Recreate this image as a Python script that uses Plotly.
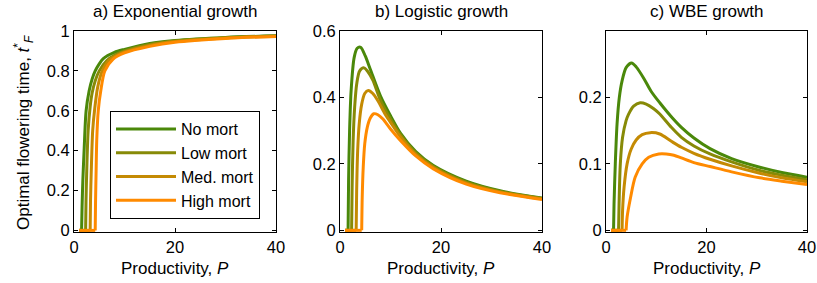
import plotly.graph_objects as go

series_names = ["No mort", "Low mort", "Med. mort", "High mort"]
colors = ["#4A880A", "#878A07", "#C48A03", "#FF8A00"]

# Panel a) Exponential growth
exp_P = [
    [1, 1.5, 1.6, 1.75, 2.0, 2.4, 3.0, 3.6, 4.2, 5.0, 5.8, 8, 10, 15, 20, 30, 40],
    [1, 2.3, 2.38, 2.5, 2.8, 3.2, 3.6, 4.2, 5.0, 6.5, 8, 10, 15, 20, 30, 40],
    [1, 3.2, 3.27, 3.4, 3.7, 4.1, 4.7, 5.6, 7.1, 8.5, 10, 15, 20, 30, 40],
    [1, 4.2, 4.27, 4.38, 4.5, 4.8, 5.3, 6.1, 7.7, 10, 15, 20, 30, 40],
]
exp_t = [
    [0, 0, 0.12, 0.25, 0.40, 0.60, 0.70, 0.76, 0.80, 0.835, 0.862, 0.893, 0.908, 0.938, 0.953, 0.968, 0.976],
    [0, 0, 0.15, 0.28, 0.50, 0.62, 0.69, 0.75, 0.80, 0.852, 0.878, 0.90, 0.933, 0.950, 0.966, 0.975],
    [0, 0, 0.15, 0.28, 0.50, 0.61, 0.72, 0.80, 0.858, 0.878, 0.895, 0.928, 0.947, 0.965, 0.974],
    [0, 0, 0.15, 0.30, 0.45, 0.60, 0.70, 0.80, 0.858, 0.89, 0.923, 0.944, 0.963, 0.973],
]

# Panel b) Logistic growth
log_P = [
    [1, 1.6, 1.7, 1.9, 2.2, 2.8, 3.4, 4.1, 5, 6, 8, 10, 12, 15, 18.5, 25, 31.7, 40],
    [1, 2.3, 2.4, 2.6, 2.9, 3.3, 3.9, 4.75, 5.5, 6.5, 8, 10, 12, 15, 18.5, 25, 31.7, 40],
    [1, 3.2, 3.3, 3.5, 3.8, 4.3, 4.9, 5.6, 6.5, 7.5, 9, 10, 12, 15, 18.5, 25, 31.7, 40],
    [1, 4.3, 4.4, 4.6, 4.9, 5.4, 6, 6.7, 7.5, 8.5, 10, 12, 15, 18.5, 25, 31.7, 40],
]
log_t = [
    [0, 0, 0.15, 0.30, 0.42, 0.52, 0.548, 0.551, 0.525, 0.485, 0.405, 0.345, 0.292, 0.237, 0.195, 0.148, 0.119, 0.097],
    [0, 0, 0.13, 0.27, 0.37, 0.44, 0.48, 0.489, 0.478, 0.452, 0.392, 0.335, 0.287, 0.233, 0.192, 0.145, 0.117, 0.096],
    [0, 0, 0.12, 0.24, 0.32, 0.38, 0.412, 0.421, 0.412, 0.39, 0.348, 0.325, 0.281, 0.229, 0.189, 0.142, 0.115, 0.095],
    [0, 0, 0.10, 0.19, 0.26, 0.31, 0.338, 0.351, 0.348, 0.335, 0.305, 0.27, 0.224, 0.185, 0.139, 0.113, 0.093],
]

# Panel c) WBE growth
wbe_P = [
    [1, 1.5, 1.6, 1.85, 2.2, 2.65, 3.2, 4, 5.1, 6, 7.5, 9, 10.7, 13, 15, 17.5, 20.7, 25, 30.6, 35, 40],
    [1, 2.5, 2.6, 2.85, 3.3, 4, 4.5, 5.5, 6.8, 8, 9.5, 10.7, 13, 15, 17.5, 20.7, 25, 30.6, 35, 40],
    [1, 3.2, 3.3, 3.6, 4.2, 5, 6, 7.2, 8.8, 10.7, 13, 15, 17.5, 20.7, 25, 30.6, 35, 40],
    [1, 4.0, 4.2, 4.85, 5.8, 7.2, 8.5, 10.5, 12, 13.5, 15, 17.5, 20.7, 25, 30.6, 35, 40],
]
wbe_t = [
    [0, 0, 0.04, 0.10, 0.16, 0.20, 0.225, 0.245, 0.252, 0.246, 0.229, 0.209, 0.192, 0.171, 0.155, 0.139, 0.123, 0.108, 0.095, 0.087, 0.080],
    [0, 0, 0.04, 0.10, 0.14, 0.165, 0.175, 0.187, 0.192, 0.19, 0.183, 0.175, 0.155, 0.140, 0.127, 0.115, 0.103, 0.090, 0.083, 0.076],
    [0, 0, 0.03, 0.065, 0.10, 0.122, 0.136, 0.144, 0.147, 0.145, 0.134, 0.125, 0.116, 0.107, 0.097, 0.086, 0.079, 0.073],
    [0, 0, 0.02, 0.048, 0.08, 0.10, 0.11, 0.115, 0.115, 0.113, 0.109, 0.102, 0.096, 0.088, 0.079, 0.074, 0.069],
]

panel_titles = ["a) Exponential growth", "b) Logistic growth", "c) WBE growth"]
x_ticks = [0, 20, 40]
y_ticks = [[0, 0.2, 0.4, 0.6, 0.8, 1], [0, 0.2, 0.4, 0.6], [0, 0.1, 0.2]]
y_tick_text = [["0", "0.2", "0.4", "0.6", "0.8", "1"], ["0", "0.2", "0.4", "0.6"], ["0", "0.1", "0.2"]]
y_ranges = [[-0.008, 1], [-0.005, 0.6], [-0.0025, 0.3]]

W, H = 817, 283
FONT = "Liberation Sans, Arial, Helvetica, sans-serif"
TXT = 17
TICK = 16.5
x_domains = [[74 / W, 276 / W], [340 / W, 542 / W], [606 / W, 807 / W]]
y_domain = [1 - 232 / H, 1 - 31 / H]

fig = go.Figure()
data_sets = [(exp_P, exp_t), (log_P, log_t), (wbe_P, wbe_t)]
for k, (Ps, ts) in enumerate(data_sets):
    xa = "x" if k == 0 else f"x{k+1}"
    ya = "y" if k == 0 else f"y{k+1}"
    for i in range(4):
        P, t = Ps[i], ts[i]
        # index of the last zero before the curve rises
        j = max(n for n in range(len(t)) if t[n] == 0)
        fig.add_trace(go.Scatter(
            x=P[:j + 1], y=t[:j + 1], mode="lines", name=series_names[i],
            line=dict(color=colors[i], width=3), legendgroup=series_names[i],
            showlegend=False, xaxis=xa, yaxis=ya, hoverinfo="skip",
        ))
        fig.add_trace(go.Scatter(
            x=P[j:], y=t[j:], mode="lines", name=series_names[i],
            line=dict(color=colors[i], width=3, shape="spline", smoothing=0.8),
            legendgroup=series_names[i],
            showlegend=(k == 0), xaxis=xa, yaxis=ya, hoverinfo="skip",
        ))

axis_common = dict(showline=True, linecolor="black", linewidth=1, mirror="ticks",
                   ticks="inside", ticklen=4, tickcolor="black", showgrid=False,
                   zeroline=False, automargin=False,
                   tickfont=dict(family=FONT, size=TICK, color="black"))
layout = dict(width=W, height=H, margin=dict(l=0, r=0, t=0, b=0, autoexpand=False),
              paper_bgcolor="white", plot_bgcolor="white",
              font=dict(family=FONT, size=TXT, color="black"))
annotations = []
for k in range(3):
    xk = "xaxis" if k == 0 else f"xaxis{k+1}"
    yk = "yaxis" if k == 0 else f"yaxis{k+1}"
    layout[xk] = dict(domain=x_domains[k], range=[0, 40], tickvals=x_ticks,
                      anchor="y" if k == 0 else f"y{k+1}", **axis_common)
    layout[yk] = dict(domain=y_domain, range=y_ranges[k], tickvals=y_ticks[k],
                      ticktext=y_tick_text[k],
                      anchor="x" if k == 0 else f"x{k+1}", **axis_common)
    cx = (x_domains[k][0] + x_domains[k][1]) / 2
    annotations.append(dict(text=panel_titles[k], x=cx, y=1 - 12 / H, xref="paper", yref="paper",
                            showarrow=False, xanchor="center", yanchor="middle",
                            font=dict(family=FONT, size=TXT, color="black")))
    annotations.append(dict(text="Productivity, <i>P</i>", x=cx, y=1 - 268 / H, xref="paper", yref="paper",
                            showarrow=False, xanchor="center", yanchor="middle",
                            font=dict(family=FONT, size=TXT, color="black")))
annotations.append(dict(text="Optimal flowering time, <i>t</i><sup>*</sup><sub><i>F</i></sub>",
                        x=23 / W, y=1 - 133 / H, xref="paper", yref="paper", textangle=-90,
                        showarrow=False, xanchor="center", yanchor="middle",
                        font=dict(family=FONT, size=TXT, color="black")))
layout["annotations"] = annotations
layout["legend"] = dict(x=110 / W, y=1 - 111 / H, xanchor="left", yanchor="top",
                        bgcolor="white", bordercolor="black", borderwidth=1,
                        font=dict(family=FONT, size=16, color="black"),
                        tracegroupgap=0, itemwidth=60)
fig.update_layout(**layout)
fig.write_html("out.html", config={"displayModeBar": False, "staticPlot": True},
               post_script="document.body.style.margin='0px';document.body.style.overflow='hidden';")
